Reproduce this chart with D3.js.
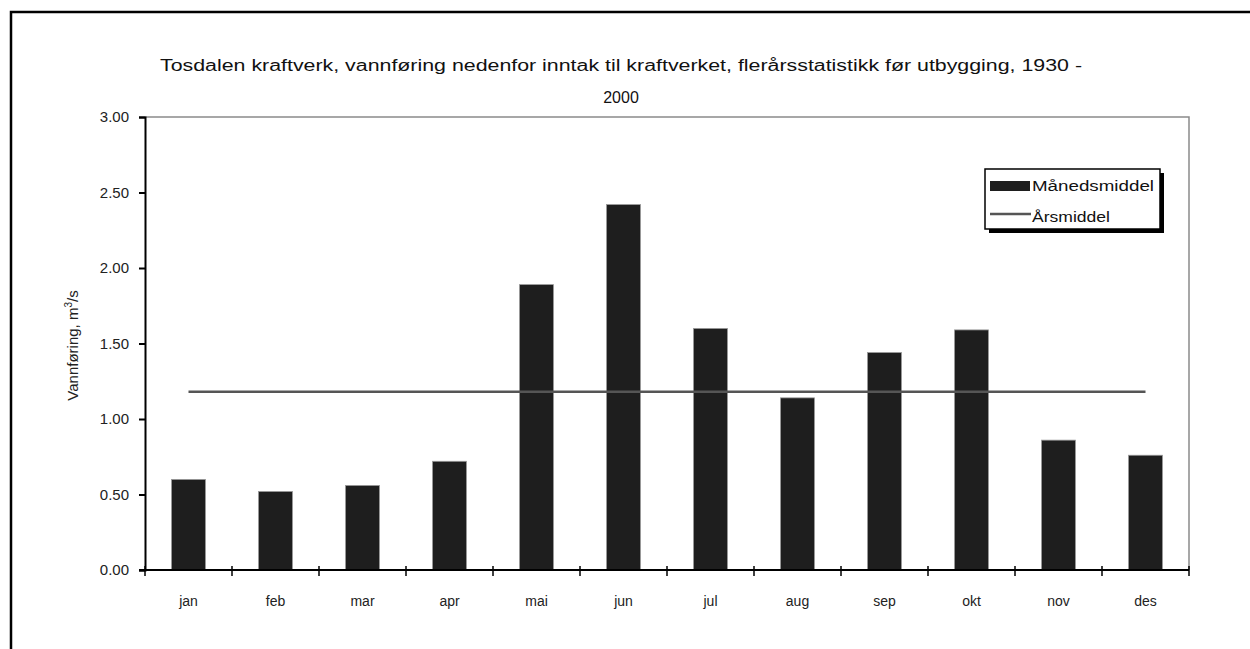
<!DOCTYPE html>
<html>
<head>
<meta charset="utf-8">
<script src="https://cdn.jsdelivr.net/npm/d3@7.9.0/dist/d3.min.js"></script>
<style>
  html, body { margin: 0; padding: 0; background: #fff; }
  svg { display: block; font-family: 'Liberation Sans', Arial, sans-serif; }
</style>
</head>
<body>
<svg id="chart" width="1250" height="649"></svg>
<script>
// monthly mean discharge, m3/s
const months = ['jan', 'feb', 'mar', 'apr', 'mai', 'jun', 'jul', 'aug', 'sep', 'okt', 'nov', 'des'];
const monthlyMean = [0.60, 0.52, 0.56, 0.72, 1.89, 2.42, 1.60, 1.14, 1.44, 1.59, 0.86, 0.76];
const yearlyMean = 1.18;
const yTicks = [0, 0.5, 1, 1.5, 2, 2.5, 3];
const titleLines = [
  'Tosdalen kraftverk, vannføring nedenfor inntak til kraftverket, flerårsstatistikk før utbygging, 1930 -',
  '2000',
];
const legendLabels = ['Månedsmiddel', 'Årsmiddel'];

const svg = d3.select('#chart');

// outer frame (only top and left edges are visible)
svg.append('path')
  .attr('d', 'M11,649 V12 H1250')
  .attr('fill', 'none')
  .attr('stroke', '#000')
  .attr('stroke-width', 2.5);

const area = { left: 145, right: 1189, top: 117, bottom: 570 };

const x = d3.scaleBand()
  .domain(months)
  .range([area.left, area.right])
  .paddingInner(0.61)
  .paddingOuter(0.305);

const xOuter = d3.scaleBand().domain(months).range([area.left, area.right]);

const y = d3.scaleLinear().domain([0, 3]).range([area.bottom, area.top]);

// plot frame (top and right)
svg.append('path')
  .attr('d', `M${area.left},${area.top} H${area.right} V${area.bottom}`)
  .attr('fill', 'none')
  .attr('stroke', '#8a8a8a')
  .attr('stroke-width', 1.5);

// title
svg.append('g')
  .selectAll('text')
  .data(titleLines)
  .join('text')
  .attr('x', 621)
  .attr('y', (d, i) => 71 + i * 32)
  .attr('text-anchor', 'middle')
  .attr('font-size', 16)
  .attr('fill', '#111')
  .attr('textLength', (d, i) => (i === 0 ? 922 : null))
  .attr('lengthAdjust', 'spacingAndGlyphs')
  .text((d) => d);

// bars
svg.append('g')
  .selectAll('rect')
  .data(monthlyMean)
  .join('rect')
  .attr('x', (d, i) => x(months[i]))
  .attr('y', (d) => y(d))
  .attr('width', x.bandwidth())
  .attr('height', (d) => y(0) - y(d))
  .attr('fill', '#1e1e1e')
  .attr('stroke', '#9a9a9a')
  .attr('stroke-width', 0.8);

// yearly mean line
svg.append('line')
  .attr('x1', x(months[0]) + x.bandwidth() / 2)
  .attr('x2', x(months[months.length - 1]) + x.bandwidth() / 2)
  .attr('y1', y(yearlyMean))
  .attr('y2', y(yearlyMean))
  .attr('stroke', '#555')
  .attr('stroke-width', 2.5);

// y axis
const yAxis = svg.append('g')
  .attr('transform', `translate(${area.left},0)`)
  .call(d3.axisLeft(y).tickValues(yTicks).tickFormat(d3.format('.2f')).tickSize(6).tickPadding(10));
yAxis.select('.domain').attr('stroke', '#000').attr('stroke-width', 2);
yAxis.selectAll('.tick line').attr('stroke', '#000').attr('stroke-width', 2);
yAxis.selectAll('.tick text')
  .attr('font-size', 15)
  .attr('font-family', "'Liberation Sans', Arial, sans-serif")
  .attr('fill', '#222');

// x axis: ticks at the category boundaries, labels centered
const boundaries = months.map((m) => xOuter(m)).concat([area.right]);
svg.append('line')
  .attr('x1', area.left - 6)
  .attr('x2', area.right)
  .attr('y1', area.bottom)
  .attr('y2', area.bottom)
  .attr('stroke', '#000')
  .attr('stroke-width', 2);
svg.append('g')
  .selectAll('line')
  .data(boundaries)
  .join('line')
  .attr('x1', (d) => d)
  .attr('x2', (d) => d)
  .attr('y1', area.bottom - 4)
  .attr('y2', area.bottom + 6)
  .attr('stroke', '#000')
  .attr('stroke-width', 1.5);
svg.append('g')
  .selectAll('text')
  .data(months)
  .join('text')
  .attr('x', (d) => xOuter(d) + xOuter.bandwidth() / 2)
  .attr('y', 606)
  .attr('text-anchor', 'middle')
  .attr('font-size', 14)
  .attr('fill', '#222')
  .text((d) => d);

// y axis title
svg.append('text')
  .attr('transform', `translate(78,${(area.top + area.bottom) / 2 + 2}) rotate(-90)`)
  .attr('text-anchor', 'middle')
  .attr('font-size', 15)
  .attr('fill', '#222')
  .html('Vannføring, m<tspan dy="-6" font-size="10">3</tspan><tspan dy="6">/s</tspan>');

// legend
const legend = svg.append('g').attr('transform', 'translate(985,169)');
legend.append('rect')
  .attr('x', 4).attr('y', 4).attr('width', 175).attr('height', 60)
  .attr('fill', '#000');
legend.append('rect')
  .attr('x', 0).attr('y', 0).attr('width', 175).attr('height', 60)
  .attr('fill', '#fff')
  .attr('stroke', '#000')
  .attr('stroke-width', 1.5);
legend.append('rect')
  .attr('x', 5).attr('y', 12).attr('width', 40).attr('height', 10)
  .attr('fill', '#1e1e1e');
legend.append('line')
  .attr('x1', 5).attr('x2', 46).attr('y1', 45).attr('y2', 45)
  .attr('stroke', '#555').attr('stroke-width', 2.5);
legend.selectAll('text.lbl')
  .data(legendLabels)
  .join('text')
  .attr('class', 'lbl')
  .attr('x', 47)
  .attr('y', (d, i) => 22 + i * 31)
  .attr('font-size', 14)
  .attr('fill', '#111')
  .attr('textLength', (d, i) => (i === 0 ? 122 : 78))
  .attr('lengthAdjust', 'spacingAndGlyphs')
  .text((d) => d);
</script>
</body>
</html>
